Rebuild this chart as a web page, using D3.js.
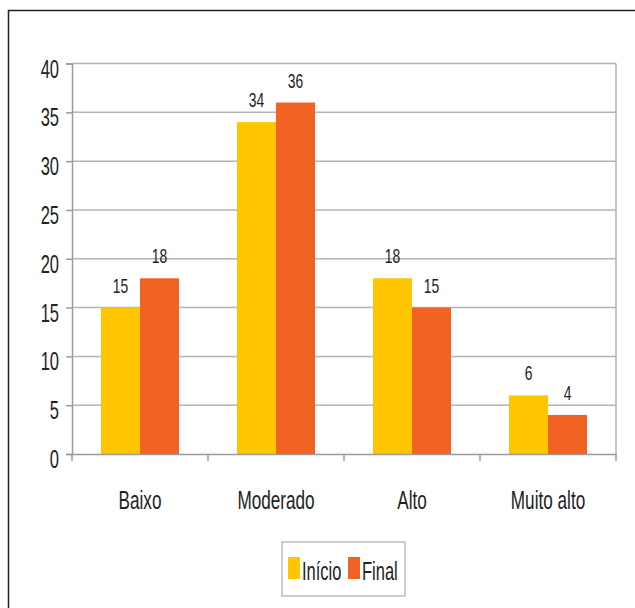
<!DOCTYPE html>
<html>
<head>
<meta charset="utf-8">
<script src="https://cdn.jsdelivr.net/npm/d3@7"></script>
<style>
  html, body { margin: 0; padding: 0; background: #fff; }
  svg text { font-family: "Liberation Sans", Arial, sans-serif; fill: #222; }
</style>
</head>
<body>
<svg id="chart" width="635" height="608"></svg>
<script>
// Risk levels and counts at the start and end of the period
const categories = ["Baixo", "Moderado", "Alto", "Muito alto"];
const seriesNames = ["Início", "Final"];
const inicio = [15, 34, 18, 6];
const final = [18, 36, 15, 4];
const yTicks = [0, 5, 10, 15, 20, 25, 30, 35, 40];
const colors = ["#FFC600", "#F26222"];

const NARROW = 0.66; // horizontal squeeze for the condensed lettering

// Turn a text's x/y into a translate so it can be squeezed horizontally about its anchor
function condense(sel) {
  sel.each(function () {
    const t = d3.select(this);
    const tx = +t.attr("x") || 0;
    const ty = +t.attr("y") || 0;
    t.attr("x", null).attr("y", null)
      .attr("transform", `translate(${tx},${ty}) scale(${NARROW},1)`);
  });
}

const svg = d3.select("#chart");
const plot = { left: 72, right: 616, top: 63.5, bottom: 454 };

// outer frame (runs off the right and bottom edges)
svg.append("rect")
  .attr("x", 8.5).attr("y", 10.5)
  .attr("width", 700).attr("height", 700)
  .attr("fill", "none").attr("stroke", "#222").attr("stroke-width", 1.5);

const x = d3.scaleBand().domain(categories).range([plot.left, plot.right]);
const barW = 39;
const xInner = d3.scaleBand().domain(seriesNames)
  .range([x.bandwidth() / 2 - barW, x.bandwidth() / 2 + barW]);
const y = d3.scaleLinear().domain([0, 40]).range([plot.bottom, plot.top]);

// horizontal gridlines
svg.append("g")
  .selectAll("line")
  .data(yTicks.filter(t => t > 0))
  .join("line")
  .attr("x1", plot.left).attr("x2", plot.right)
  .attr("y1", d => y(d)).attr("y2", d => y(d))
  .attr("stroke", "#b4b4b4").attr("stroke-width", 1.5);

// right border of the plot area
svg.append("line")
  .attr("x1", plot.right).attr("x2", plot.right)
  .attr("y1", plot.top).attr("y2", plot.bottom)
  .attr("stroke", "#b4b4b4").attr("stroke-width", 1.5);

// bars
const data = categories.map((c, i) => ({ cat: c, values: [inicio[i], final[i]] }));
const groups = svg.append("g").selectAll("g")
  .data(data).join("g")
  .attr("transform", d => `translate(${x(d.cat)},0)`);

groups.selectAll("rect")
  .data(d => d.values.map((v, j) => ({ name: seriesNames[j], v, j })))
  .join("rect")
  .attr("x", d => xInner(d.name))
  .attr("width", xInner.bandwidth())
  .attr("y", d => y(d.v))
  .attr("height", d => y(0) - y(d.v))
  .attr("fill", d => colors[d.j]);

// value labels
groups.selectAll("text")
  .data(d => d.values.map((v, j) => ({ name: seriesNames[j], v, j })))
  .join("text")
  .attr("x", d => xInner(d.name) + xInner.bandwidth() / 2)
  .attr("y", d => y(d.v) - 15)
  .attr("text-anchor", "middle")
  .attr("font-size", 21)
  .text(d => d.v)
  .call(condense);

// y axis
const yAxis = svg.append("g")
  .attr("transform", `translate(${plot.left},0)`)
  .call(d3.axisLeft(y).tickValues(yTicks).tickSize(6).tickPadding(7));
yAxis.select(".domain").attr("stroke", "#9a9a9a").attr("stroke-width", 1.5);
yAxis.selectAll(".tick line").attr("stroke", "#9a9a9a").attr("stroke-width", 1.5);
yAxis.selectAll(".tick text")
  .attr("font-size", 25).attr("fill", "#222")
  .attr("font-family", "'Liberation Sans', Arial, sans-serif")
  .attr("dy", null).attr("y", 13.5)
  .call(condense);

// x axis
const xAxis = svg.append("g")
  .attr("transform", `translate(0,${plot.bottom})`)
  .call(d3.axisBottom(x).tickSize(0).tickPadding(0));
xAxis.select(".domain").attr("stroke", "#9a9a9a").attr("stroke-width", 1.5);
xAxis.selectAll(".tick text")
  .attr("font-size", 26).attr("fill", "#222")
  .attr("font-family", "'Liberation Sans', Arial, sans-serif")
  .attr("dy", null).attr("y", 55)
  .call(condense);
// category separators below the axis
xAxis.append("g").selectAll("line")
  .data([...categories.map(c => x(c)), plot.right])
  .join("line")
  .attr("x1", d => d).attr("x2", d => d)
  .attr("y1", 0).attr("y2", 7)
  .attr("stroke", "#9a9a9a").attr("stroke-width", 1.5);

// legend
const legend = svg.append("g").attr("transform", "translate(282,542)");
legend.append("rect")
  .attr("width", 123).attr("height", 54)
  .attr("fill", "#fff").attr("stroke", "#bdbdbd").attr("stroke-width", 1.5);
const legendItems = [
  { name: seriesNames[0], color: colors[0], sx: 6, tx: 20 },
  { name: seriesNames[1], color: colors[1], sx: 66, tx: 80 }
];
legendItems.forEach(it => {
  legend.append("rect")
    .attr("x", it.sx).attr("y", 15).attr("width", 12).attr("height", 22)
    .attr("fill", it.color);
  legend.append("text")
    .attr("x", it.tx).attr("y", 38)
    .attr("font-size", 25)
    .text(it.name)
    .call(condense);
});
</script>
</body>
</html>
